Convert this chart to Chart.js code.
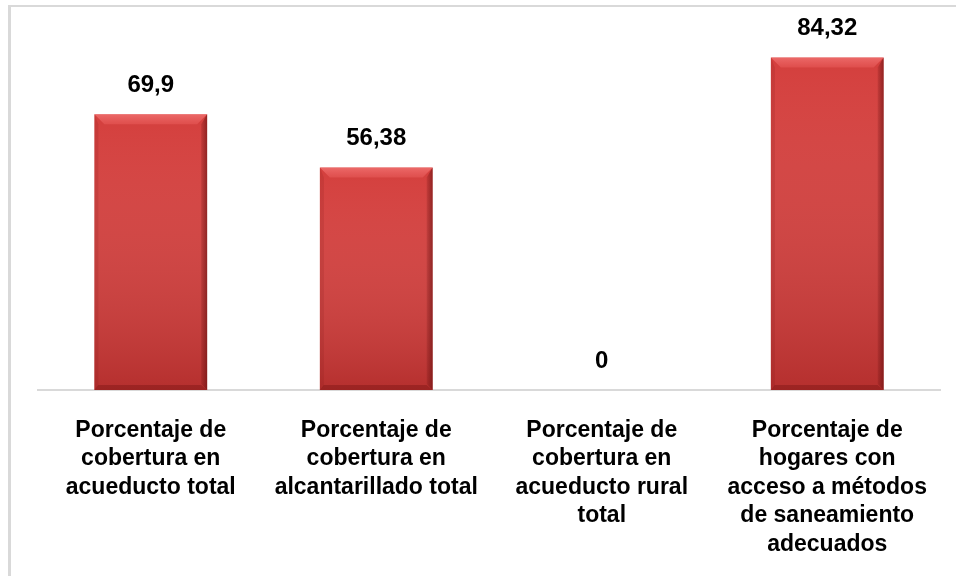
<!DOCTYPE html>
<html>
<head>
<meta charset="utf-8">
<script src="https://cdn.jsdelivr.net/npm/chart.js@4/dist/chart.umd.min.js"></script>
<style>
  html, body { margin: 0; padding: 0; background: #fff; }
  #wrap { position: relative; width: 956px; height: 576px; }
  /* marco gris: solo arriba e izquierda, como en la imagen */
  #frame {
    position: absolute; left: 8px; top: 5px; right: 0; bottom: 0;
    border-top: 2px solid #d9d9d9; border-left: 3px solid #d9d9d9;
    pointer-events: none;
  }
</style>
</head>
<body>
<div id="wrap">
  <canvas id="chart" width="956" height="576"></canvas>
  <div id="frame"></div>
</div>
<script>
/* ── datos ───────────────────────────────────────────── */
const categories = [
  ['Porcentaje de', 'cobertura en', 'acueducto total'],
  ['Porcentaje de', 'cobertura en', 'alcantarillado total'],
  ['Porcentaje de', 'cobertura en', 'acueducto rural', 'total'],
  ['Porcentaje de', 'hogares con', 'acceso a métodos', 'de saneamiento', 'adecuados']
];
const values = [69.9, 56.38, 0, 84.32];
const yMin = 0;
const yMax = 90;

/* ── estilo ──────────────────────────────────────────── */
const BAR_COLOR  = '#d43f3d';
const AXIS_COLOR = '#d9d9d9';
const FONT = 'Arial, "Liberation Sans", sans-serif';

/* degradado + bisel sobre cada barra */
const bevelPlugin = {
  id: 'bevel',
  afterDatasetsDraw(chart) {
    const ctx = chart.ctx;
    chart.getDatasetMeta(0).data.forEach(el => {
      const h = el.base - el.y;
      if (h < 2) return;
      const l = el.x - el.width / 2, r = el.x + el.width / 2;
      const t = el.y, b = el.base;
      ctx.save();
      // sombra vertical hacia abajo
      let g = ctx.createLinearGradient(0, t, 0, b);
      g.addColorStop(0, 'rgba(255,255,255,0)');
      g.addColorStop(1, 'rgba(90,0,0,0.25)');
      ctx.fillStyle = g;
      ctx.fillRect(l, t, r - l, h);
      // bisel superior claro
      const bv = 10;
      ctx.beginPath();
      ctx.moveTo(l, t); ctx.lineTo(r, t); ctx.lineTo(r - bv, t + bv); ctx.lineTo(l + bv, t + bv);
      ctx.closePath();
      g = ctx.createLinearGradient(0, t, 0, t + bv);
      g.addColorStop(0, 'rgba(255,140,140,0.55)');
      g.addColorStop(1, 'rgba(255,120,120,0.25)');
      ctx.fillStyle = g;
      ctx.fill();
      // borde derecho oscuro
      ctx.beginPath();
      ctx.moveTo(r, t); ctx.lineTo(r, b); ctx.lineTo(r - 6, b - 6); ctx.lineTo(r - 6, t + bv);
      ctx.closePath();
      g = ctx.createLinearGradient(r - 6, 0, r, 0);
      g.addColorStop(0, 'rgba(90,10,10,0.15)');
      g.addColorStop(1, 'rgba(90,10,10,0.55)');
      ctx.fillStyle = g;
      ctx.fill();
      // borde izquierdo
      ctx.beginPath();
      ctx.moveTo(l, t); ctx.lineTo(l + 4, t + bv); ctx.lineTo(l + 4, b - 4); ctx.lineTo(l, b);
      ctx.closePath();
      ctx.fillStyle = 'rgba(120,20,20,0.15)';
      ctx.fill();
      // borde inferior
      ctx.beginPath();
      ctx.moveTo(l, b); ctx.lineTo(r, b); ctx.lineTo(r - 6, b - 5); ctx.lineTo(l + 4, b - 5);
      ctx.closePath();
      ctx.fillStyle = 'rgba(80,0,0,0.25)';
      ctx.fill();
      ctx.restore();
    });
  }
};

/* etiquetas de valor con coma decimal */
const valueLabels = {
  id: 'valueLabels',
  afterDatasetsDraw(chart) {
    const ctx = chart.ctx;
    ctx.save();
    ctx.font = 'bold 24px ' + FONT;
    ctx.fillStyle = '#000';
    ctx.textAlign = 'center';
    ctx.textBaseline = 'middle';
    chart.getDatasetMeta(0).data.forEach((el, i) => {
      ctx.fillText(String(values[i]).replace('.', ','), el.x, el.y - 29);
    });
    ctx.restore();
  }
};

new Chart(document.getElementById('chart'), {
  type: 'bar',
  data: {
    labels: categories,
    datasets: [{
      data: values,
      backgroundColor: BAR_COLOR,
      borderWidth: 0,
      barPercentage: 0.5,
      categoryPercentage: 1.0
    }]
  },
  options: {
    responsive: false,
    animation: false,
    layout: { padding: { left: 38, right: 16, top: 35, bottom: 0 } },
    plugins: { legend: { display: false }, tooltip: { enabled: false } },
    scales: {
      x: {
        grid: { display: false, drawTicks: false },
        border: { display: true, color: AXIS_COLOR, width: 2 },
        ticks: {
          color: '#000',
          padding: 26,
          maxRotation: 0,
          autoSkip: false,
          font: { family: FONT, size: 23, weight: 'bold', lineHeight: 1.24 }
        },
        afterFit: s => { s.height = 186; }
      },
      y: { display: false, min: yMin, max: yMax }
    }
  },
  plugins: [bevelPlugin, valueLabels]
});
</script>
</body>
</html>
